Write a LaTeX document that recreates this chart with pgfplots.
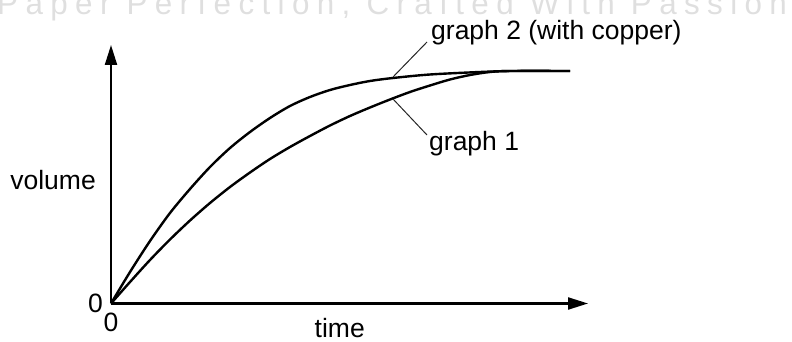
\documentclass[border=0pt]{standalone}
\usepackage{fontspec}
\setmainfont{Liberation Sans}
\newfontfamily\wmfont[LetterSpace=23.5]{Liberation Sans}
\usepackage{pgfplots}
\pgfplotsset{compat=1.18}
\usetikzlibrary{arrows.meta}
\newcommand\lbl{\fontsize{26.5}{31}\selectfont}
\newcommand\wm{\wmfont\fontsize{31.4}{35}\selectfont}
\begin{document}
\begin{tikzpicture}
\useasboundingbox (0,0) rectangle (792pt,342pt);
\clip (0,0) rectangle (792pt,342pt);
% watermark
\node[anchor=base west, inner sep=0pt, font=\wm, text=gray!25] at (-3pt,327pt) {Paper Perfection, Crafted With Passion};
\begin{axis}[
  at={(111pt,38.5pt)}, anchor=south west,
  scale only axis, width=477pt, height=258.5pt,
  xmin=0, xmax=477, ymin=0, ymax=258.5,
  axis lines=left,
  axis line style={line width=2.2pt},
  every outer x axis line/.append style={-{Triangle[length=20pt,width=12pt]}},
  every outer y axis line/.append style={-{Triangle[length=20pt,width=12pt]}},
  xtick={0}, ytick={0}, xticklabels={0}, yticklabels={0},
  major tick length=0pt,
  /pgf/number format/assume math mode=true,
  tick label style={font=\lbl, inner sep=0pt},
  xticklabel style={anchor=north, yshift=-9.5pt},
  yticklabel style={anchor=east, xshift=-8pt},
  clip=false,
]
% graph 1
\addplot[black, line width=2.4pt, smooth] coordinates {
 (0,0) (19,21.5) (39,43.5) (59,64) (79,83) (99,100.5) (119,116.5) (139,131)
 (159,144.5) (179,156.5) (199,167.5) (219,178) (239,187.5) (259,196) (279,204)
 (299,211.5) (319,218) (339,224) (359,228.5) (379,231.5) (399,232.5) (459,232.5)
};
% graph 2 (with copper)
\addplot[black, line width=2.4pt, smooth] coordinates {
 (0,0) (19,31.5) (39,62.5) (59,90.5) (79,114.5) (99,136.5) (119,155.5) (139,171.5)
 (159,185.5) (179,197.5) (199,206.5) (219,213.5) (239,218.5) (259,222.5) (282,225.5)
 (319,229) (369,231.5) (402,232.5) (459,232.5)
};
\end{axis}
% leader lines and labels
\draw[line width=1pt, black!85] (393pt,265pt) -- (427pt,300pt);
\draw[line width=1pt, black!85] (393pt,243pt) -- (427pt,207pt);
\node[anchor=base west, inner sep=0pt, font=\lbl] at (431pt,302pt) {graph 2 (with copper)};
\node[anchor=base west, inner sep=0pt, font=\lbl] at (429pt,191pt) {graph 1};
\node[anchor=base east, inner sep=0pt, font=\lbl] at (96pt,152pt) {volume};
\node[anchor=base west, inner sep=0pt, font=\lbl] at (314.5pt,4.5pt) {time};
\end{tikzpicture}
\end{document}
